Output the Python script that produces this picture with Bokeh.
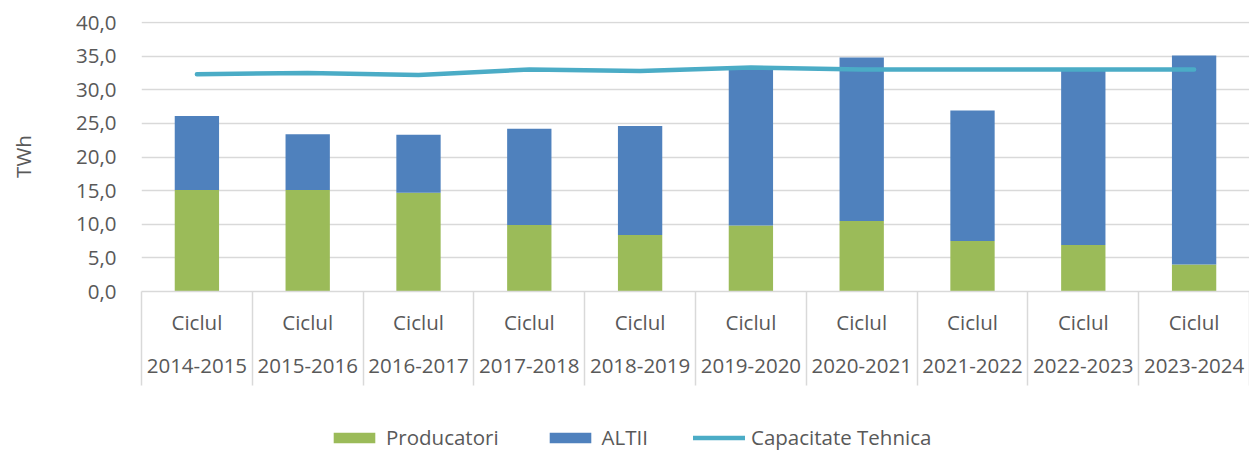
from bokeh.plotting import figure
from bokeh.layouts import column
from bokeh.models import (ColumnDataSource, Range1d, FixedTicker, CustomJSTickFormatter,
                          Legend, LegendItem)
from bokeh.embed import file_html
from bokeh.resources import INLINE

# ---- data ----
cycle_word = "Ciclul"
years = ["2014-2015", "2015-2016", "2016-2017", "2017-2018", "2018-2019",
         "2019-2020", "2020-2021", "2021-2022", "2022-2023", "2023-2024"]
producatori = [15.1, 15.1, 14.7, 9.9, 8.4, 9.8, 10.5, 7.5, 6.9, 4.0]
altii = [11.0, 8.3, 8.6, 14.3, 16.2, 23.2, 24.3, 19.4, 25.9, 31.1]
capacitate = [32.3, 32.5, 32.2, 33.0, 32.8, 33.3, 33.0, 33.0, 33.0, 33.0]
y_ticks = [0, 5, 10, 15, 20, 25, 30, 35, 40]
series_names = ["Producatori", "ALTII", "Capacitate Tehnica"]

GREEN = "#9bbb59"
BLUE = "#4f81bd"
TEAL = "#4bacc6"
GRID = "#d9d9d9"
TXT = "#595959"
FONT = "Open Sans"
FS = "20.5px"

n = len(years)
xpos = [i + 0.5 for i in range(n)]
src = ColumnDataSource(dict(x=xpos, producatori=producatori, altii=altii,
                            capacitate=capacitate))

W = 1249
H_MAIN = 422
H_LEG = 30

p = figure(width=W, height=H_MAIN, output_backend="svg", toolbar_location=None,
           x_range=Range1d(0, n), y_range=Range1d(0, 40.15),
           min_border_left=141, min_border_right=0, min_border_top=21,
           min_border_bottom=131)
p.outline_line_color = None
p.background_fill_color = "white"
p.border_fill_color = "white"

bars = p.vbar_stack(["producatori", "altii"], x="x", width=0.4, color=[GREEN, BLUE],
                    source=src, line_color=None)
ln = p.line("x", "capacitate", source=src, line_color=TEAL, line_width=4.5,
            line_cap="round", line_join="round")

# y axis
p.yaxis.ticker = FixedTicker(ticks=y_ticks)
p.yaxis.formatter = CustomJSTickFormatter(code="return tick.toFixed(1).replace('.', ',');")
p.yaxis.axis_line_color = None
p.yaxis.major_tick_line_color = None
p.yaxis.minor_tick_line_color = None
p.yaxis.major_label_standoff = 19
p.yaxis.major_label_text_font = FONT
p.yaxis.major_label_text_font_size = FS
p.yaxis.major_label_text_color = TXT
p.yaxis.axis_label = "TWh"
p.yaxis.axis_label_text_font = FONT
p.yaxis.axis_label_text_font_size = FS
p.yaxis.axis_label_text_font_style = "normal"
p.yaxis.axis_label_text_color = TXT
p.yaxis.axis_label_standoff = 36

p.ygrid.grid_line_color = GRID
p.ygrid.grid_line_width = 1.5
p.xgrid.visible = False

# x axis (two-line category labels with separators)
p.xaxis.ticker = FixedTicker(ticks=xpos, minor_ticks=list(range(n + 1)))
p.xaxis.formatter = CustomJSTickFormatter(
    args=dict(years=years, word=cycle_word),
    code="return word + '\\n' + years[Math.floor(tick)];")
p.xaxis.axis_line_color = GRID
p.xaxis.axis_line_width = 1.5
p.xaxis.major_tick_line_color = None
p.xaxis.major_tick_out = 0
p.xaxis.major_tick_in = 0
p.xaxis.minor_tick_line_color = GRID
p.xaxis.minor_tick_line_width = 1.5
p.xaxis.minor_tick_out = 94
p.xaxis.minor_tick_in = 0
p.xaxis.major_label_standoff = -78
p.xaxis.major_label_text_font = FONT
p.xaxis.major_label_text_font_size = FS
p.xaxis.major_label_text_color = TXT
p.xaxis.major_label_text_line_height = 1.56

# legend strip below the chart (hidden copies of the series provide the swatches)
pl = figure(width=W, height=H_LEG, output_backend="svg", toolbar_location=None,
            x_range=Range1d(0, n), y_range=Range1d(0, 40),
            min_border=0, x_axis_type=None, y_axis_type=None)
pl.outline_line_color = None
pl.grid.visible = False
pl.background_fill_color = "white"
pl.border_fill_color = "white"
lg_g = pl.vbar(x="x", top="producatori", source=src, width=0.4, color=GREEN,
               line_color=None, visible=False)
lg_b = pl.vbar(x="x", top="altii", source=src, width=0.4, color=BLUE,
               line_color=None, visible=False)
lg_l = pl.line(x="x", y="capacitate", source=src, line_color=TEAL, line_width=4.5,
               line_cap="round", visible=False)

legend = Legend(items=[LegendItem(label=series_names[0], renderers=[lg_g]),
                       LegendItem(label=series_names[1], renderers=[lg_b]),
                       LegendItem(label=series_names[2], renderers=[lg_l])],
                orientation="horizontal", location=(187, 1),
                glyph_width=52, glyph_height=13, label_standoff=6, spacing=45,
                label_height=20,
                padding=0, margin=0, border_line_color=None,
                background_fill_alpha=0, inactive_fill_alpha=0,
                label_text_font=FONT, label_text_font_size=FS,
                label_text_line_height=1.0,
                label_text_color=TXT)
pl.add_layout(legend)

layout = column(p, pl, spacing=0)
open("out.html", "w").write(file_html(layout, INLINE))
